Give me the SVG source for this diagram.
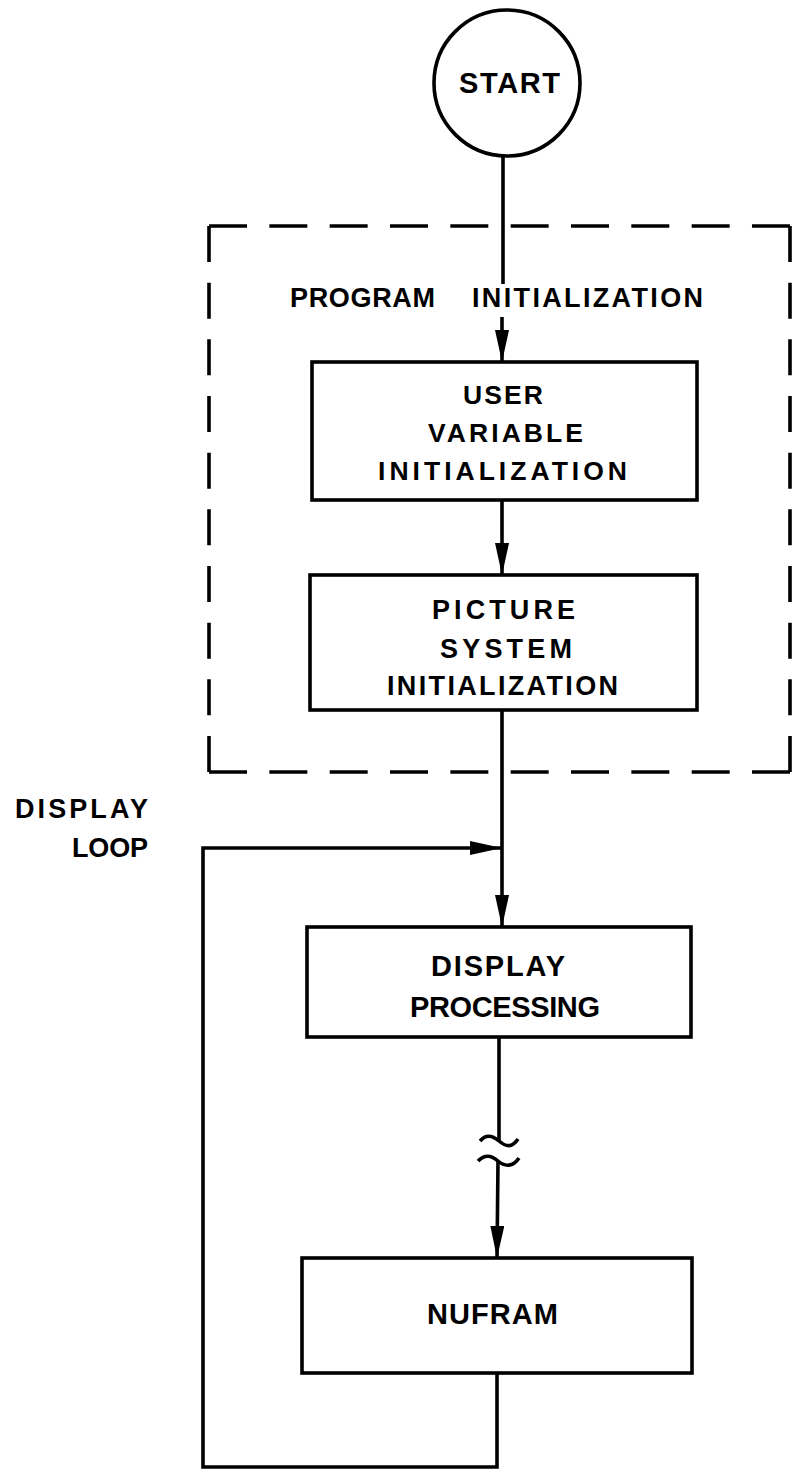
<svg xmlns="http://www.w3.org/2000/svg" width="798" height="1470" viewBox="0 0 798 1470">
<style>
.bg{fill:#ffffff}
.box{fill:none;stroke:#000;stroke-width:3.6}
.ln{fill:none;stroke:#000;stroke-width:3.6}
.dash{fill:none;stroke:#000;stroke-width:3.6}
.t{font-family:"Liberation Sans",Arial,sans-serif;font-weight:bold;fill:#000}
</style>
<defs>
<marker id="ah" markerUnits="userSpaceOnUse" markerWidth="34" markerHeight="16" refX="32" refY="7" orient="auto">
<path d="M0,0 L32,7 L0,14 z" fill="#000"/>
</marker>
</defs>
<rect class="bg" x="0" y="0" width="798" height="1470"/>

<g id="init-frame">
<line class="dash" x1="209" y1="226" x2="790" y2="226" stroke-dasharray="38 22.33"/>
<line class="dash" x1="790" y1="226" x2="790" y2="772" stroke-dasharray="36 20.67"/>
<line class="dash" x1="790" y1="772" x2="209" y2="772" stroke-dasharray="38 22.33"/>
<line class="dash" x1="209" y1="772" x2="209" y2="226" stroke-dasharray="36 20.67"/>
<text class="t" x="290" y="307" font-size="27" textLength="145" lengthAdjust="spacing">PROGRAM</text>
<text class="t" x="472" y="307" font-size="27" textLength="231" lengthAdjust="spacing">INITIALIZATION</text>
</g>

<g id="start">
<circle class="box" cx="507" cy="83" r="73"/>
<text class="t" x="459" y="93" font-size="29" textLength="101" lengthAdjust="spacing">START</text>
</g>

<g id="user-var-init">
<rect class="box" x="312" y="362" width="385" height="138"/>
<text class="t" x="463" y="404" font-size="26.5" textLength="80" lengthAdjust="spacing">USER</text>
<text class="t" x="428" y="442" font-size="26.5" textLength="155" lengthAdjust="spacing">VARIABLE</text>
<text class="t" x="378" y="480" font-size="26.5" textLength="249" lengthAdjust="spacing">INITIALIZATION</text>
</g>

<g id="picture-sys-init">
<rect class="box" x="310" y="575" width="387" height="135"/>
<text class="t" x="432" y="619" font-size="27" textLength="143" lengthAdjust="spacing">PICTURE</text>
<text class="t" x="440" y="658" font-size="27" textLength="132" lengthAdjust="spacing">SYSTEM</text>
<text class="t" x="387" y="695" font-size="27" textLength="231" lengthAdjust="spacing">INITIALIZATION</text>
</g>

<g id="display-processing">
<rect class="box" x="307" y="927" width="384" height="110"/>
<text class="t" x="431" y="976" font-size="29" textLength="134" lengthAdjust="spacing">DISPLAY</text>
<text class="t" x="410" y="1017" font-size="29" textLength="190" lengthAdjust="spacing">PROCESSING</text>
</g>

<g id="nufram">
<rect class="box" x="302" y="1258" width="390" height="115"/>
<text class="t" x="427" y="1324" font-size="29" textLength="131" lengthAdjust="spacing">NUFRAM</text>
</g>

<g id="display-loop-label">
<text class="t" x="15" y="818" font-size="27" textLength="133" lengthAdjust="spacing">DISPLAY</text>
<text class="t" x="72" y="857" font-size="27" textLength="76" lengthAdjust="spacing">LOOP</text>
</g>

<g id="connectors">
<line class="ln" x1="503" y1="156" x2="503" y2="284"/>
<line class="ln" x1="502" y1="317" x2="502" y2="362" marker-end="url(#ah)"/>
<line class="ln" x1="502" y1="500" x2="502" y2="575" marker-end="url(#ah)"/>
<line class="ln" x1="502" y1="710" x2="502" y2="927" marker-end="url(#ah)"/>
<line class="ln" x1="499" y1="1037" x2="499" y2="1141"/>
<path class="ln" d="M480,1141 C486,1134 492,1135 499,1141 S512,1148 518,1139"/>
<path class="ln" d="M478,1161 C485,1154 491,1155 498,1161 S513,1167 519,1158"/>
<line class="ln" x1="498" y1="1161" x2="497" y2="1258" marker-end="url(#ah)"/>
<path class="ln" d="M497,1373 V1467 H203 V848 H502" marker-end="url(#ah)"/>
</g>
</svg>
